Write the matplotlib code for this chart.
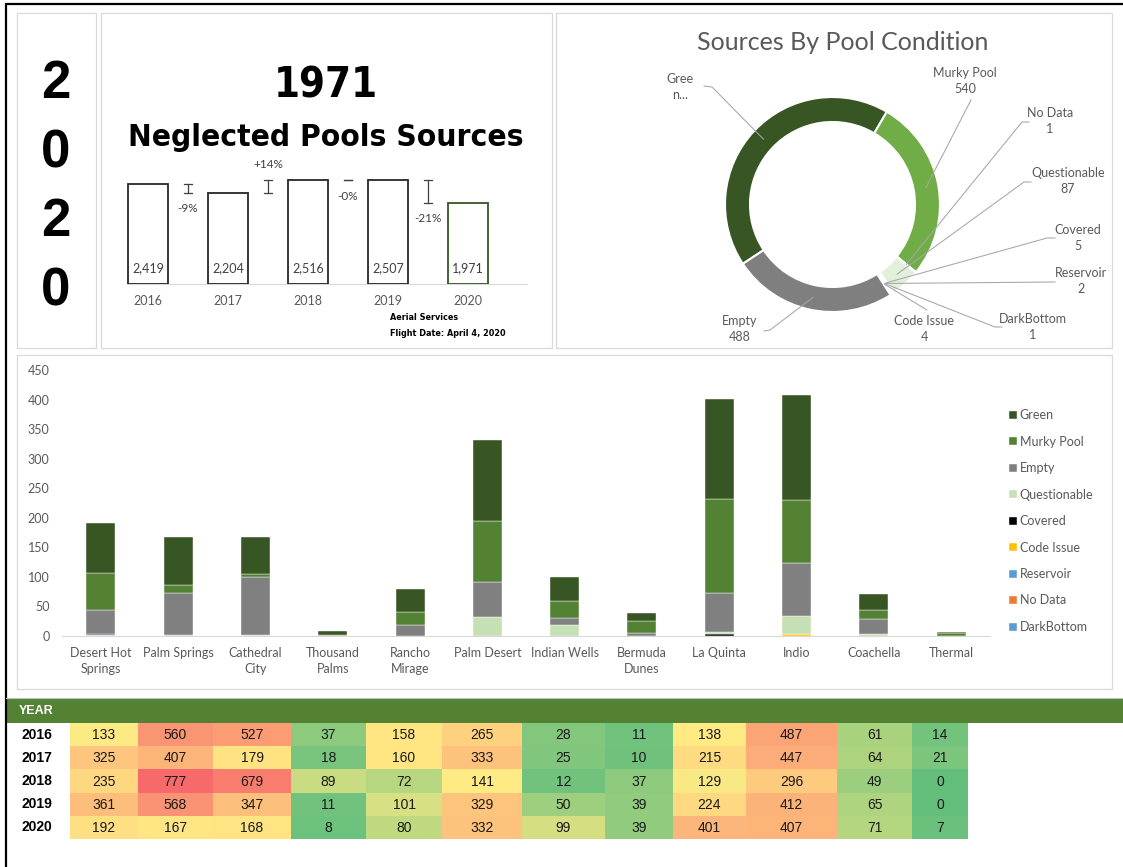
import matplotlib
matplotlib.use('Agg')
import matplotlib.pyplot as plt
from matplotlib.patches import Rectangle
from matplotlib import font_manager
from matplotlib.font_manager import FontProperties
import numpy as np

W, H = 1123, 867

# ---------------- data ----------------
years = ['2016', '2017', '2018', '2019', '2020']
year_totals = [2419, 2204, 2516, 2507, 1971]

donut_labels = ['Green', 'Murky Pool', 'No Data', 'Questionable', 'Covered',
                'Reservoir', 'DarkBottom', 'Code Issue', 'Empty']
donut_values = [842, 540, 1, 87, 5, 2, 1, 4, 488]
donut_shown = ['Gree\nn...', None, None, None, None, None, None, None, None]

cities = ['Desert Hot\nSprings', 'Palm Springs', 'Cathedral\nCity', 'Thousand\nPalms',
          'Rancho\nMirage', 'Palm Desert', 'Indian Wells', 'Bermuda\nDunes',
          'La Quinta', 'Indio', 'Coachella', 'Thermal']
green        = [86, 80, 63, 7, 39, 137, 39, 14, 170, 177, 27, 2]
murky_pool   = [62, 15, 6, 0, 23, 103, 29, 20, 158, 106, 15, 5]
empty        = [41, 70, 98, 1, 18, 60, 13, 5, 66, 90, 26, 0]
questionable = [0, 0, 0, 0, 0, 32, 18, 0, 4, 30, 3, 0]
covered      = [2, 0, 0, 0, 0, 0, 0, 0, 3, 0, 0, 0]
code_issue   = [0, 0, 0, 0, 0, 0, 0, 0, 0, 4, 0, 0]
reservoir    = [0, 2, 0, 0, 0, 0, 0, 0, 0, 0, 0, 0]
no_data      = [0, 0, 1, 0, 0, 0, 0, 0, 0, 0, 0, 0]
dark_bottom  = [1, 0, 0, 0, 0, 0, 0, 0, 0, 0, 0, 0]

table_years = ['2016', '2017', '2018', '2019', '2020']
row_2016 = [133, 560, 527, 37, 158, 265, 28, 11, 138, 487, 61, 14]
row_2017 = [325, 407, 179, 18, 160, 333, 25, 10, 215, 447, 64, 21]
row_2018 = [235, 777, 679, 89, 72, 141, 12, 37, 129, 296, 49, 0]
row_2019 = [361, 568, 347, 11, 101, 329, 50, 39, 224, 412, 65, 0]
row_2020 = [192, 167, 168, 8, 80, 332, 99, 39, 401, 407, 71, 7]
table_rows = [row_2016, row_2017, row_2018, row_2019, row_2020]

# ---------------- fonts ----------------
ARIAL = 'Liberation Sans'
CAL = 'Lato'
GRAY = '#595959'


def find_narrow_bold():
    cands = []
    for f in font_manager.fontManager.ttflist:
        key = (f.name + ' ' + f.fname).lower()
        if ('narrow' in key or 'condensed' in key) and not key.endswith('.pfb'):
            w = f.weight if isinstance(f.weight, int) else (700 if 'bold' in str(f.weight).lower() else 400)
            if 'semi' in key or 'extra' in key or 'ultra' in key:
                continue
            cands.append((abs(w - 700), 'italic' in key or 'oblique' in key, f.fname, f.name))
    cands.sort()
    for c in cands:
        if not c[1]:
            return c[2], c[3]
    return None, None


narrow_path, narrow_name = find_narrow_bold()


def narrow_fp(size):
    if narrow_path:
        fp = FontProperties(fname=narrow_path)
    else:
        fp = FontProperties(family='DejaVu Sans', weight='bold')
    fp.set_size(size)
    return fp


fig = plt.figure(figsize=(W / 100, H / 100), dpi=100)
fig.patch.set_facecolor('white')


def ax_px(x0, y0, x1, y1):
    return fig.add_axes([x0 / W, 1 - y1 / H, (x1 - x0) / W, (y1 - y0) / H])


# ---------------- overlay ----------------
ov = fig.add_axes([0, 0, 1, 1])
ov.set_xlim(0, W)
ov.set_ylim(H, 0)
ov.axis('off')
ov.patch.set_alpha(0)
ov.set_zorder(10)

ov.plot([5, W], [3.5, 3.5], color='black', lw=1.6, solid_capstyle='butt')
ov.plot([6, 6], [3, H], color='black', lw=1.6, solid_capstyle='butt')

for (x0, y0, x1, y1) in [(17, 13, 96, 348), (101, 13, 552, 348), (556, 13, 1112, 348), (17, 355, 1112, 689)]:
    ov.add_patch(Rectangle((x0, y0), x1 - x0, y1 - y0, fill=False, edgecolor='#D9D9D9', lw=0.9))

for d, yb in zip('2020', [98, 167, 236, 305]):
    ov.text(56, yb, d, fontsize=38, fontweight='bold', family=ARIAL, ha='center', va='baseline')

renderer = fig.canvas.get_renderer()


def fit_width(t, target):
    bb = t.get_window_extent(renderer=renderer)
    if bb.width > target * 1.03:
        t.set_fontsize(t.get_fontsize() * target / bb.width)


t1 = ov.text(326, 98, f'{year_totals[-1]}', fontproperties=narrow_fp(30), ha='center', va='baseline')
t2 = ov.text(326, 146, 'Neglected Pools Sources', fontproperties=narrow_fp(30), ha='center', va='baseline')
fit_width(t2, 394)
t3 = ov.text(390, 318, 'Aerial Services', fontproperties=narrow_fp(7.5), ha='left', va='center')
t4 = ov.text(390, 333, 'Flight Date: April 4, 2020', fontproperties=narrow_fp(7.5), ha='left', va='center')
fit_width(t4, 115)
t3.set_fontsize(t4.get_fontsize())

# ---------------- mini yearly bar chart ----------------
axm = ax_px(127, 150, 527, 284)
axm.patch.set_alpha(0)
xs = np.arange(len(years))
edge = ['#262626'] * (len(years) - 1) + ['#375623']
axm.bar(xs, year_totals, width=0.5, facecolor='white', edgecolor=edge, linewidth=1.3, zorder=3)
axm.set_xlim(-0.2625, 4.7375)
axm.set_ylim(0, 134 * year_totals[0] / 100)
for s in ['left', 'right', 'top']:
    axm.spines[s].set_visible(False)
axm.spines['bottom'].set_color('#D9D9D9')
axm.set_yticks([])
axm.set_xticks(xs, years)
axm.tick_params(axis='x', length=0, pad=8, labelsize=9, labelcolor=GRAY)
for lab in axm.get_xticklabels():
    lab.set_family(CAL)
for i, v in enumerate(year_totals):
    axm.annotate(f'{v:,}', (i, 0), xytext=(0, 11.5), textcoords='offset points',
                 ha='center', va='center', fontsize=9, color='#404040', family=CAL, zorder=4)
for i in range(len(year_totals) - 1):
    a, b = year_totals[i], year_totals[i + 1]
    xm = i + 0.5
    axm.plot([xm, xm], [a, b], color='#404040', lw=0.9)
    axm.plot([xm - 0.05, xm + 0.05], [a, a], color='#404040', lw=0.9)
    axm.plot([xm - 0.05, xm + 0.05], [b, b], color='#404040', lw=0.9)
    pct = (b - a) / a
    txt = f'{pct:+.0%}'
    if b > a:
        axm.annotate(txt, (xm, max(a, b)), xytext=(0, 11.5), textcoords='offset points',
                     ha='center', va='center', fontsize=8.5, color='#404040', family=CAL)
    else:
        axm.annotate(txt, (xm, min(a, b)), xytext=(0, -11.5), textcoords='offset points',
                     ha='center', va='center', fontsize=8.5, color='#404040', family=CAL)

# ---------------- donut ----------------
cx, cy, R = 832.5, 204.5, 107.5
axd = ax_px(cx - R, cy - R, cx + R, cy + R)
axd.patch.set_alpha(0)
start_c = 236.5  # clockwise from 12 o'clock
donut_colors = ['#375623', '#70AD47', '#FFFFFF', '#E2EFDA', '#FFFFFF', '#FFFFFF', '#FFFFFF', '#FFFFFF', '#7F7F7F']
axd.pie(donut_values, colors=donut_colors, radius=1, startangle=90 - start_c, counterclock=False,
        wedgeprops=dict(width=25 / R, edgecolor='white', linewidth=1.5))
axd.set_xlim(-1, 1)
axd.set_ylim(-1, 1)
axd.set_aspect('equal')

ov.text(843, 43, 'Sources By Pool Condition', fontsize=18, color=GRAY, family=CAL, ha='center', va='center')

vals = np.array(donut_values, float)
fr = vals / vals.sum()
mids = start_c + (np.cumsum(fr) - fr / 2) * 360
rmid = 95
label_pos = {
    'Green': ((680, 87), [(704, 86), (712, 87)]),
    'Murky Pool': ((965, 81), [(971, 100)]),
    'No Data': ((1050, 121), [(1029, 122), (1022, 122)]),
    'Questionable': ((1068, 181), [(1031, 182), (1024, 182)]),
    'Covered': ((1078, 238), [(1055, 238), (1047, 238)]),
    'Reservoir': ((1081, 281), [(1055, 282)]),
    'DarkBottom': ((1033, 327), [(1002, 327), (995, 327)]),
    'Code Issue': ((924, 329), [(927, 310)]),
    'Empty': ((740, 329), [(764, 331), (770, 330)]),
}
for lab, val, shown, m in zip(donut_labels, donut_values, donut_shown, mids):
    (tx, ty), pts = label_pos[lab]
    t = shown if shown else f'{lab}\n{val}'
    ov.text(tx, ty, t, fontsize=9, color=GRAY, family=CAL, ha='center', va='center',
            multialignment='center', linespacing=1.35)
    ax_ = cx + rmid * np.sin(np.radians(m))
    ay_ = cy - rmid * np.cos(np.radians(m))
    px = [p[0] for p in pts] + [ax_]
    py = [p[1] for p in pts] + [ay_]
    ov.plot(px, py, color='#A6A6A6', lw=0.75)

# ---------------- stacked bar chart ----------------
axb = ax_px(62, 370, 990, 636)
axb.patch.set_alpha(0)
series = [
    ('DarkBottom', dark_bottom, '#5B9BD5'),
    ('No Data', no_data, '#ED7D31'),
    ('Reservoir', reservoir, '#5B9BD5'),
    ('Code Issue', code_issue, '#FFC000'),
    ('Covered', covered, '#000000'),
    ('Questionable', questionable, '#C5E0B4'),
    ('Empty', empty, '#808080'),
    ('Murky Pool', murky_pool, '#548235'),
    ('Green', green, '#375623'),
]
xc = np.arange(len(cities))
bottom = np.zeros(len(cities))
handles = []
for name, vals_, col in series:
    h = axb.bar(xc, vals_, bottom=bottom, width=0.375, color=col, edgecolor='white', linewidth=0.3, label=name)
    handles.append(h)
    bottom += np.array(vals_, float)
axb.set_xlim(-0.5, len(cities) - 0.5)
axb.set_ylim(0, 450)
axb.set_yticks(np.arange(0, 451, 50))
for s in ['left', 'right', 'top']:
    axb.spines[s].set_visible(False)
axb.spines['bottom'].set_color('#D9D9D9')
axb.set_xticks(xc, cities)
axb.tick_params(axis='both', length=0, labelsize=9, labelcolor=GRAY)
axb.tick_params(axis='x', pad=8)
axb.tick_params(axis='y', pad=9)
for lab in axb.get_xticklabels():
    lab.set_family(CAL)
    lab.set_linespacing(1.4)
for lab in axb.get_yticklabels():
    lab.set_family(CAL)
leg = axb.legend(handles[::-1], [s[0] for s in series][::-1], loc='upper left',
                 bbox_to_anchor=(1009 / W, 1 - 409 / H), bbox_transform=fig.transFigure,
                 frameon=False, prop={'family': CAL, 'size': 9}, handlelength=0.6, handleheight=0.6,
                 handletextpad=0.25, labelspacing=1.16, borderpad=0, borderaxespad=0)
for t in leg.get_texts():
    t.set_color(GRAY)

# ---------------- heat table ----------------
ov.plot([6, W], [698, 698], color='#BFBFBF', lw=0.8)
ov.add_patch(Rectangle((6.5, 699), W - 6.5, 23.5, facecolor='#548235', edgecolor='none'))
ov.text(19, 711, 'YEAR', fontsize=9, fontweight='bold', color='white', family=ARIAL, ha='left', va='center')

col_edges = [70, 137.5, 213, 291, 366, 442, 522, 605, 673, 746, 837, 912, 968]
row_top, row_h = 723, 23.2
allv = np.array(table_rows, float)
vmin, vmax, vmed = allv.min(), allv.max(), np.percentile(allv, 50)
c_lo = np.array([99, 190, 123]) / 255
c_mid = np.array([255, 235, 132]) / 255
c_hi = np.array([248, 105, 107]) / 255


def scale_color(v):
    if v <= vmed:
        t = (v - vmin) / (vmed - vmin)
        return c_lo + (c_mid - c_lo) * t
    t = (v - vmed) / (vmax - vmed)
    return c_mid + (c_hi - c_mid) * t


for r, (yr, row) in enumerate(zip(table_years, table_rows)):
    y0 = row_top + r * row_h
    ov.text(22, y0 + row_h / 2, yr, fontsize=10, fontweight='bold', family=ARIAL, ha='left', va='center')
    for c, v in enumerate(row):
        x0, x1 = col_edges[c], col_edges[c + 1]
        ov.add_patch(Rectangle((x0, y0), x1 - x0, row_h, facecolor=scale_color(v), edgecolor='none'))
        ov.text((x0 + x1) / 2, y0 + row_h / 2 + 0.5, str(v), fontsize=10, family=ARIAL,
                color='#1a1a1a', ha='center', va='center')

fig.savefig('out.png', dpi=100, facecolor='white')
